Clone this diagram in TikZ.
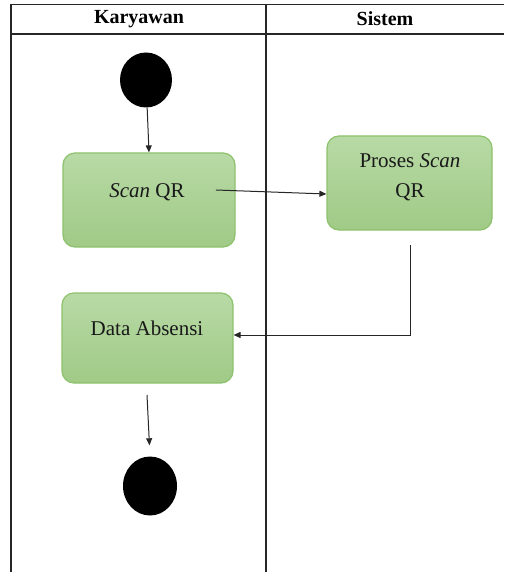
\documentclass[tikz,border=0pt]{standalone}
\usepackage{fontspec}
\setmainfont{Liberation Serif}
\newfontfamily\timesfont{Liberation Serif}
\usetikzlibrary{arrows.meta,shapes.geometric}

\definecolor{actline}{RGB}{141,194,108}
\definecolor{acttop}{RGB}{184,218,166}
\definecolor{actbot}{RGB}{160,202,134}

\begin{document}
\begin{tikzpicture}[x=1pt,y=-1pt,
  lane/.style={line width=1.4pt, draw=black!85},
  lanehead/.style={font=\timesfont\fontsize{20}{24}\selectfont\bfseries},
  activity/.style={draw=actline, line width=1.2pt, rounded corners=12pt, top color=acttop, bottom color=actbot},
  acttext/.style={font=\timesfont\fontsize{21}{30}\selectfont, align=center, text=black!90},
  dot/.style={ellipse, fill=black, inner sep=0pt},
  flow/.style={line width=1pt, draw=black!85, -{Triangle[length=7pt,width=6pt]}}]

\useasboundingbox (0,0) rectangle (504,572);

\draw[lane] (504,4.5) -- (11,4.5) -- (11,572);
\draw[lane] (11,34) -- (504,34);
\draw[lane] (266,4.5) -- (266,572);
\node[lanehead] (karyawan) at (139,19) {Karyawan};
\node[lanehead] (sistem) at (385,19) {Sistem};


\node[dot, minimum width=52pt, minimum height=55pt] (start) at (146,80) {};

\node[activity, minimum width=172pt, minimum height=94pt] (scan) at (149,200) {};
\node[acttext] (scan-txt) at (147,192) {\textit{Scan} QR};
\coordinate (scan-out) at (216,190);

\node[activity, minimum width=165pt, minimum height=94pt] (proses) at (409.5,183) {};
\node[acttext] (proses-txt) at (410,177) {Proses \textit{Scan}\\QR};
\coordinate (proses-out) at (410,245);

\node[activity, minimum width=171pt, minimum height=90pt] (absen) at (147.5,338) {};
\node[acttext] (absen-txt) at (147,328) {Data Absensi};
\coordinate (absen-out) at (147,395);

\node[dot, minimum width=54pt, minimum height=59pt] (end) at (150,486) {};


\draw[flow] (start) -- (scan.north);
\draw[flow] (scan-out) -- ([yshift=-11pt]proses.west);
\draw[flow] (proses-out) |- ([yshift=3pt]absen.east);
\draw[flow, shorten >=11pt] (absen-out) -- (end.north);

\end{tikzpicture}
\end{document}
